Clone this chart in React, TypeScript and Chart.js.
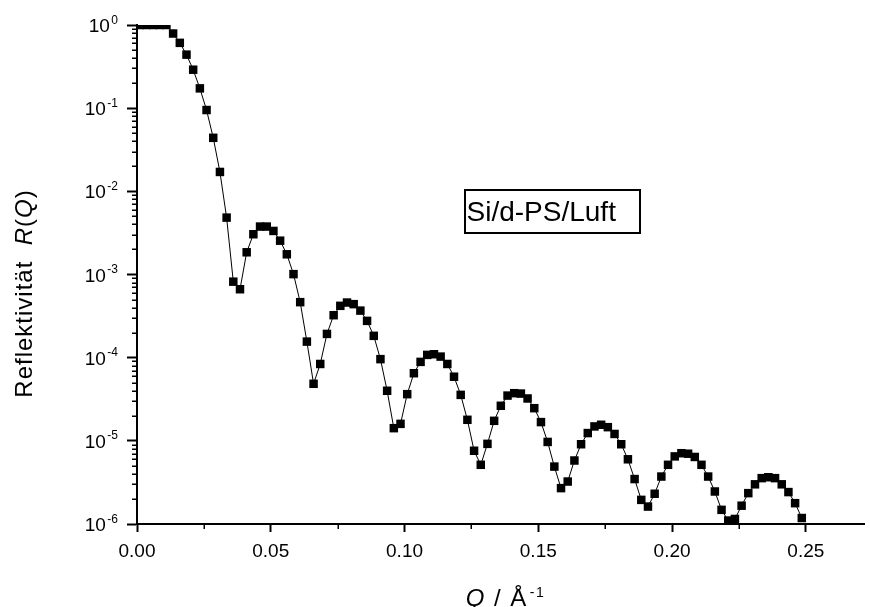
import React, { useEffect, useRef } from 'react';
import { Chart, registerables } from 'chart.js';

Chart.register(...registerables);

// ---- data ----
const qValues = [
  0.001, 0.0035, 0.006, 0.0085, 0.011, 0.0135, 0.016, 0.0185, 0.021, 0.0235,
  0.026, 0.0285, 0.031, 0.0335, 0.036, 0.0385, 0.041, 0.0435, 0.046, 0.0485,
  0.051, 0.0535, 0.056, 0.0585, 0.061, 0.0635, 0.066, 0.0685, 0.071, 0.0735,
  0.076, 0.0785, 0.081, 0.0835, 0.086, 0.0885, 0.091, 0.0935, 0.096, 0.0985,
  0.101, 0.1035, 0.106, 0.1085, 0.111, 0.1135, 0.116, 0.1185, 0.121, 0.1235,
  0.126, 0.1285, 0.131, 0.1335, 0.136, 0.1385, 0.141, 0.1435, 0.146, 0.1485,
  0.151, 0.1535, 0.156, 0.1585, 0.161, 0.1635, 0.166, 0.1685, 0.171, 0.1735,
  0.176, 0.1785, 0.181, 0.1835, 0.186, 0.1885, 0.191, 0.1935, 0.196, 0.1985,
  0.201, 0.2035, 0.206, 0.2085, 0.211, 0.2135, 0.216, 0.2185, 0.221, 0.2235,
  0.226, 0.2285, 0.231, 0.2335, 0.236, 0.2385, 0.241, 0.2435, 0.246, 0.2485,
];

const reflectivity = [
  1, 1, 1, 1, 1, 0.79, 0.61, 0.44, 0.29, 0.173,
  0.095, 0.044, 0.0171, 0.00483, 0.00082, 0.000665, 0.00185, 0.00305, 0.00377, 0.00377,
  0.00334, 0.00255, 0.00175, 0.00101, 0.000465, 1.56e-4, 4.85e-5, 8.4e-5, 1.93e-4, 3.24e-4,
  4.2e-4, 4.6e-4, 4.4e-4, 3.68e-4, 2.77e-4, 1.83e-4, 9.6e-5, 4.0e-5, 1.42e-5, 1.6e-5,
  3.64e-5, 6.5e-5, 8.9e-5, 1.08e-4, 1.1e-4, 1.03e-4, 8.4e-5, 5.9e-5, 3.57e-5, 1.79e-5,
  7.6e-6, 5.15e-6, 9.2e-6, 1.74e-5, 2.64e-5, 3.5e-5, 3.74e-5, 3.7e-5, 3.23e-5, 2.47e-5,
  1.68e-5, 9.7e-6, 4.9e-6, 2.7e-6, 3.24e-6, 5.8e-6, 9.1e-6, 1.24e-5, 1.49e-5, 1.56e-5,
  1.46e-5, 1.21e-5, 9.1e-6, 6.0e-6, 3.47e-6, 1.95e-6, 1.62e-6, 2.31e-6, 3.72e-6, 5.15e-6,
  6.5e-6, 7.1e-6, 7.0e-6, 6.4e-6, 5.15e-6, 3.72e-6, 2.46e-6, 1.48e-6, 1.1e-6, 1.15e-6,
  1.66e-6, 2.35e-6, 3.0e-6, 3.56e-6, 3.65e-6, 3.56e-6, 3.0e-6, 2.42e-6, 1.78e-6, 1.18e-6,
];

const xTickValues = [0, 0.05, 0.1, 0.15, 0.2, 0.25];
const xMinorTickValues = [0.025, 0.075, 0.125, 0.175, 0.225];
const yDecadeExponents = [0, -1, -2, -3, -4, -5, -6];
const yMinorMultipliers = [2, 3, 4, 5, 6, 7, 8, 9];
const xMin = 0;
const xMax = 0.27175;
const yMin = 1e-6;
const yMax = 1;
const sampleLabel = 'Si/d-PS/Luft';
const yTitleText = 'Reflektivität  ';
const xTitleText = ' / Å';

const FONT = "'Liberation Sans', Arial, Helvetica, sans-serif";

const decorPlugin = {
  id: 'decor',
  afterDraw(chart: any) {
    const { ctx, chartArea, scales } = chart;
    const xs = scales.x;
    const ys = scales.y;
    ctx.save();
    ctx.strokeStyle = '#000';
    ctx.fillStyle = '#000';

    // minor ticks
    ctx.lineWidth = 1.5;
    ctx.beginPath();
    for (const v of xMinorTickValues) {
      const px = Math.round(xs.getPixelForValue(v)) + 0.25;
      ctx.moveTo(px, chartArea.bottom);
      ctx.lineTo(px, chartArea.bottom + 5);
    }
    for (const e of yDecadeExponents) {
      if (e >= 0) continue;
      for (const m of yMinorMultipliers) {
        const py = Math.round(ys.getPixelForValue(m * Math.pow(10, e))) + 0.25;
        ctx.moveTo(chartArea.left - 5, py);
        ctx.lineTo(chartArea.left, py);
      }
    }
    ctx.stroke();

    // y tick labels 10^n
    const labelRight = chartArea.left - 19;
    for (const e of yDecadeExponents) {
      const py = ys.getPixelForValue(Math.pow(10, e));
      const expText = e === 0 ? '0' : '-' + String(-e);
      ctx.font = `12px ${FONT}`;
      ctx.textAlign = 'right';
      ctx.textBaseline = 'alphabetic';
      const expW = ctx.measureText(expText).width;
      ctx.fillText(expText, labelRight, py - 1.5);
      ctx.font = `19px ${FONT}`;
      ctx.fillText('10', labelRight - expW - 1.5, py + 7);
    }

    // y title (rotated)
    ctx.save();
    ctx.letterSpacing = '1px';
    ctx.font = `24px ${FONT}`;
    const w1 = ctx.measureText(yTitleText).width;
    ctx.font = `italic 24px ${FONT}`;
    const wR = ctx.measureText('R').width;
    const wQ = ctx.measureText('Q').width;
    ctx.font = `24px ${FONT}`;
    const wP = ctx.measureText('(').width;
    const wP2 = ctx.measureText(')').width;
    const total = w1 + wR + wP + wQ + wP2;
    const centerY = (chartArea.top + chartArea.bottom) / 2 + 19;
    ctx.translate(32, centerY + total / 2);
    ctx.rotate(-Math.PI / 2);
    ctx.textAlign = 'left';
    ctx.textBaseline = 'alphabetic';
    let cx = 0;
    ctx.font = `24px ${FONT}`;
    ctx.fillText(yTitleText, cx, 0); cx += w1;
    ctx.font = `italic 24px ${FONT}`;
    ctx.fillText('R', cx, 0); cx += wR;
    ctx.font = `24px ${FONT}`;
    ctx.fillText('(', cx, 0); cx += wP;
    ctx.font = `italic 24px ${FONT}`;
    ctx.fillText('Q', cx, 0); cx += wQ;
    ctx.font = `24px ${FONT}`;
    ctx.fillText(')', cx, 0);
    ctx.restore();

    // x title
    ctx.save();
    ctx.letterSpacing = '1.5px';
    ctx.textAlign = 'left';
    ctx.textBaseline = 'alphabetic';
    ctx.font = `italic 24px ${FONT}`;
    const xq = ctx.measureText('Q').width;
    ctx.font = `24px ${FONT}`;
    const xr = ctx.measureText(xTitleText).width;
    ctx.font = `14px ${FONT}`;
    const xe = ctx.measureText('-1').width;
    const xTotal = xq + xr + 2 + xe;
    let tx = (chartArea.left + chartArea.right) / 2 + 5 - xTotal / 2;
    const base = 606;
    ctx.font = `italic 24px ${FONT}`;
    ctx.fillText('Q', tx, base); tx += xq;
    ctx.font = `24px ${FONT}`;
    ctx.fillText(xTitleText, tx, base); tx += xr + 2;
    ctx.font = `14px ${FONT}`;
    ctx.fillText('-1', tx, base - 9);
    ctx.restore();

    // sample label box
    const bx = Math.round(xs.getPixelForValue(0.1227));
    const by = Math.round(ys.getPixelForValue(0.0104));
    ctx.lineWidth = 2;
    ctx.strokeRect(bx, by, 175, 43);
    ctx.font = `28px ${FONT}`;
    ctx.textAlign = 'left';
    ctx.textBaseline = 'alphabetic';
    ctx.fillText(sampleLabel, bx + 1.5, by + 31);

    ctx.restore();
  },
};

export default function App() {
  const canvasRef = useRef<HTMLCanvasElement | null>(null);

  useEffect(() => {
    const canvas = canvasRef.current;
    if (!canvas) return;
    const points = qValues.map((q, i) => ({ x: q, y: reflectivity[i] }));
    const chart = new Chart(canvas, {
      type: 'line',
      data: {
        datasets: [
          {
            data: points,
            borderColor: '#000',
            borderWidth: 1,
            pointStyle: 'rect',
            pointRadius: 6,
            pointBackgroundColor: '#000',
            pointBorderColor: '#000',
            pointBorderWidth: 0,
            tension: 0,
            fill: false,
          },
        ],
      },
      options: {
        animation: false,
        responsive: false,
        devicePixelRatio: 1,
        layout: { padding: { top: 25, right: 2, bottom: 0, left: 0 } },
        plugins: {
          legend: { display: false },
          tooltip: { enabled: false },
          title: { display: false },
        },
        scales: {
          x: {
            type: 'linear',
            min: xMin,
            max: xMax,
            afterBuildTicks: (scale: any) => {
              scale.ticks = xTickValues.map((v) => ({ value: v }));
            },
            afterFit: (scale: any) => {
              scale.height = 83;
            },
            ticks: {
              color: '#000',
              font: { family: FONT, size: 19 },
              padding: 8,
              maxRotation: 0,
              autoSkip: false,
              callback: (v: any) => Number(v).toFixed(2),
            },
            grid: {
              display: true,
              drawOnChartArea: false,
              drawTicks: true,
              tickLength: 8,
              tickWidth: 2,
              tickColor: '#000',
            },
            border: { display: true, color: '#000', width: 2 },
          },
          y: {
            type: 'logarithmic',
            min: yMin,
            max: yMax,
            afterBuildTicks: (scale: any) => {
              scale.ticks = yDecadeExponents.map((e) => ({ value: Math.pow(10, e) }));
            },
            afterFit: (scale: any) => {
              scale.width = 137;
            },
            ticks: { display: false },
            grid: {
              display: true,
              drawOnChartArea: false,
              drawTicks: true,
              tickLength: 10,
              tickWidth: 2,
              tickColor: '#000',
            },
            border: { display: true, color: '#000', width: 2 },
          },
        },
      },
      plugins: [decorPlugin],
    });
    return () => chart.destroy();
  }, []);

  return (
    <div style={{ position: 'absolute', left: 0, top: 0, width: 870, height: 607, background: '#fff' }}>
      <canvas ref={canvasRef} width={870} height={607} style={{ display: 'block' }} />
    </div>
  );
}
